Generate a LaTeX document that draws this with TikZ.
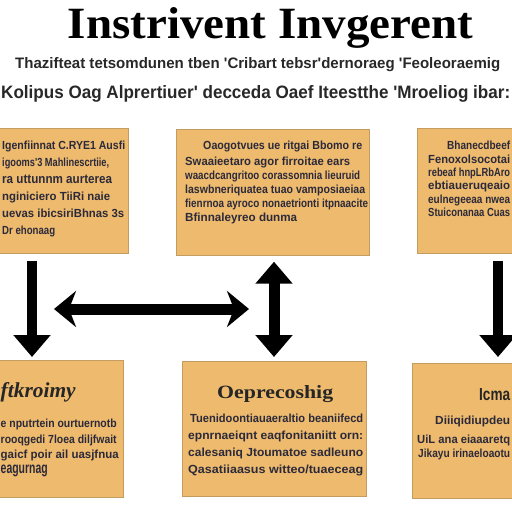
\documentclass[tikz,border=0pt]{standalone}
\usepackage{fontspec}
\usepackage{graphicx}
\setmainfont{Liberation Serif}
\newfontfamily\bodyfont{Liberation Sans}
\usetikzlibrary{arrows.meta}
\definecolor{boxfill}{RGB}{237,186,110}
\definecolor{boxedge}{RGB}{196,156,96}
\definecolor{ink}{RGB}{44,42,58}
\definecolor{subink}{RGB}{40,40,40}
\newcommand{\wline}[3][8.5pt]{\resizebox{#2}{#1}{#3}}
\begin{document}
\begin{tikzpicture}[x=1pt,y=-1pt,
  box/.style={draw=boxedge, line width=0.7pt, fill=boxfill, anchor=north west, inner sep=0},
  txt/.style={anchor=north west, inner sep=0, align=left, text=ink},
  head/.style={anchor=base west, inner sep=0, text=black!85},
  downarrow/.style={line width=10pt, -{Triangle[length=22pt,width=36pt]}},
  bothv/.style={line width=11pt, {Triangle[length=22pt,width=36pt]}-{Triangle[length=22pt,width=36pt]}},
  bothh/.style={line width=11pt, {Stealth[length=22pt,width=36pt,inset=7pt]}-{Stealth[length=22pt,width=36pt,inset=7pt]}}]
\useasboundingbox[fill=white] (0,0) rectangle (512,512);

% title and subtitles
\node[anchor=base, inner sep=0] (title) at (270.5,38)
  {\resizebox{405pt}{31pt}{\bfseries Instrivent Invgerent}};
\node[anchor=base west, inner sep=0, text=subink] (sub1) at (15,68)
  {\resizebox{485pt}{11pt}{\bodyfont\bfseries Thazifteat tetsomdunen tben 'Cribart tebsr'dernoraeg 'Feoleoraemig}};
\node[anchor=base west, inner sep=0, text=subink] (sub2) at (1,98)
  {\resizebox{509pt}{13pt}{\bodyfont\bfseries Kolipus Oag Alprertiuer' decceda Oaef Iteestthe 'Mroeliog ibar:}};

% boxes
\node[box, minimum width=129pt, minimum height=125pt] (b1) at (-1,128) {};
\node[box, minimum width=193pt, minimum height=126pt] (b2) at (176,129) {};
\node[box, minimum width=97pt, minimum height=125pt] (b3) at (417,128) {};
\node[box, minimum width=124pt, minimum height=137pt] (b4) at (-1,360) {};
\node[box, minimum width=184pt, minimum height=135pt] (b5) at (182,361) {};
\node[box, minimum width=101pt, minimum height=135pt] (b6) at (412,363) {};

% box texts
\node[txt, font=\bodyfont\bfseries\fontsize{8}{17}\selectfont] (t1) at (2,141)
  {\wline{123pt}{Igenfiinnat C.RYE1 Ausfi}\\
   \wline{107pt}{igooms'3 Mahlinescrtiie,}\\
   \wline{110pt}{ra uttunnm aurterea}\\
   \wline{108pt}{nginiciero TiiRi naie}\\
   \wline{122pt}{uevas ibicsiriBhnas 3s}\\
   \wline{53pt}{Dr ehonaag}};
\node[txt, font=\bodyfont\bfseries\fontsize{8}{14}\selectfont] (t2) at (185,141)
  {\hspace*{18pt}\wline{159pt}{Oaogotvues ue ritgai Bbomo re}\\[2pt]
   \wline{165pt}{Swaaieetaro agor firroitae ears}\\
   \wline{175pt}{waacdcangritoo corassomnia lieuruid}\\
   \wline{180pt}{laswbneriquatea tuao vamposiaeiaa}\\
   \wline{183pt}{fienrnoa ayroco nonaetrionti itpnaacite}\\
   \wline{112pt}{Bfinnaleyreo dunma}};
\node[txt, font=\bodyfont\bfseries\fontsize{8}{13.4}\selectfont] (t3) at (428,141)
  {\hspace*{19pt}\wline{63pt}{Bhanecdbeef}\\
   \wline{82pt}{Fenoxolsocotai}\\
   \wline{82pt}{rebeaf hnpLRbAro}\\
   \wline{82pt}{ebtiaueruqeaio}\\
   \wline{82pt}{eulnegeeaa nwea}\\
   \wline{82pt}{Stuiconanaa Cuas}};

\node[head] (h4) at (0.5,397) {\resizebox{75pt}{15pt}{\bfseries\itshape ftkroimy}};
\node[txt, font=\bodyfont\bfseries\fontsize{8}{15.3}\selectfont] (t4) at (0.5,419)
  {\wline{116pt}{e nputrtein ourtuernotb}\\
   \wline{116pt}{rooqgedi 7loea diljfwait}\\
   \wline{118pt}{gaicf poir ail uasjfnua}\\
   \wline{47pt}{eagurnag}};

\node[head] (h5) at (217,398) {\resizebox{116pt}{13pt}{\bfseries Oeprecoshig}};
\node[txt, font=\bodyfont\bfseries\fontsize{8}{17}\selectfont] (t5) at (188,414)
  {\hspace*{2pt}\wline{173pt}{Tuenidoontiauaeraltio beaniifecd}\\
   \wline{175pt}{epnrnaeiqnt eaqfonitaniitt orn:}\\
   \wline{175pt}{calesaniq Jtoumatoe sadleuno}\\
   \wline{175pt}{Qasatiiaasus witteo/tuaeceag}};

\node[head] (h6) at (479,400) {\resizebox{31pt}{12pt}{\bodyfont\bfseries Icma}};
\node[txt, font=\bodyfont\bfseries\fontsize{8}{14}\selectfont] (t6) at (417,416)
  {\hspace*{18pt}\wline{75pt}{Diiiqidiupdeu}\\[5pt]
   \wline{93pt}{UiL ana eiaaaretq}\\
   \hspace*{1pt}\wline{92pt}{Jikayu irinaeloaotu}};

% arrows
\coordinate (hl) at (54,309);
\coordinate (hr) at (249,309);
\draw[downarrow] ([shift={(33,7)}]b1.south west) -- ([shift={(33,-3)}]b4.north west);
\draw[bothv] ([shift={(98,6)}]b2.south west) -- ([shift={(92,-4)}]b5.north west);
\draw[downarrow] ([shift={(81,7)}]b3.south west) -- ([shift={(86,-6)}]b6.north west);
\draw[bothh] (hl) -- (hr);
\end{tikzpicture}
\end{document}
